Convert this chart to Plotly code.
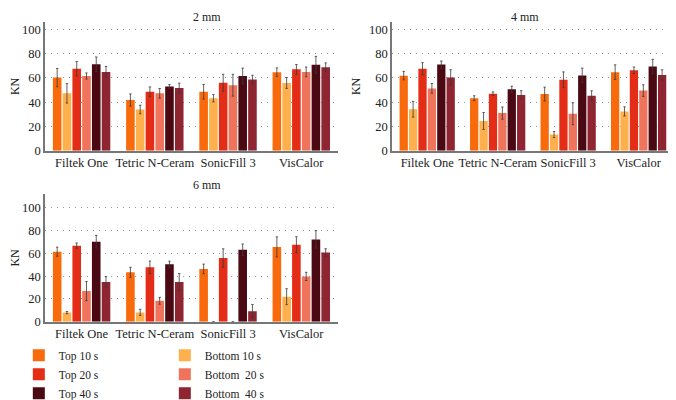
import plotly.graph_objects as go

categories = ["Filtek One", "Tetric N-Ceram", "SonicFill 3", "VisCalor"]
series_names = ["Top 10 s", "Bottom 10 s", "Top 20 s", "Bottom\u00a0 20 s", "Top 40 s", "Bottom\u00a0 40 s"]
colors = ["#F86A0C", "#FDB04B", "#E42D17", "#F0745B", "#4B0A13", "#8F2531"]

# 2 mm
mm2_vals = [
    [60.3, 41.8, 48.6, 64.8],
    [47.3, 34.0, 43.3, 55.9],
    [67.6, 48.6, 56.0, 67.1],
    [61.6, 47.3, 54.0, 65.0],
    [71.3, 53.0, 61.6, 70.8],
    [65.0, 51.7, 58.7, 68.9],
]
mm2_err = [
    [7.5, 5.0, 6.0, 3.5],
    [8.0, 3.5, 3.0, 4.5],
    [6.0, 4.0, 7.0, 4.0],
    [2.5, 4.0, 9.0, 4.0],
    [6.0, 1.5, 6.5, 7.0],
    [4.5, 4.0, 3.5, 3.5],
]
# 4 mm
mm4_vals = [
    [61.9, 43.3, 46.7, 64.8],
    [34.2, 24.5, 13.3, 32.4],
    [67.6, 47.0, 58.5, 66.3],
    [51.4, 31.0, 30.5, 49.6],
    [71.0, 50.7, 62.1, 69.5],
    [60.3, 46.0, 45.4, 62.4],
]
mm4_err = [
    [3.5, 2.0, 5.7, 6.0],
    [6.5, 7.0, 2.5, 3.8],
    [5.0, 1.5, 6.5, 2.7],
    [4.0, 5.0, 9.0, 4.8],
    [3.0, 2.5, 6.0, 5.8],
    [6.5, 3.5, 4.0, 4.3],
]
# 6 mm
mm6_vals = [
    [61.5, 43.4, 46.4, 65.7],
    [8.0, 8.2, 0.0, 22.0],
    [66.8, 47.8, 56.0, 67.6],
    [26.9, 18.4, 0.0, 39.8],
    [70.3, 50.5, 63.2, 72.3],
    [34.9, 34.9, 9.3, 60.7],
]
mm6_err = [
    [4.0, 4.4, 4.2, 8.8],
    [1.0, 2.7, 0.0, 7.0],
    [2.3, 5.5, 8.0, 7.0],
    [8.4, 3.0, 0.0, 3.6],
    [5.5, 2.7, 5.0, 7.7],
    [4.7, 7.4, 5.8, 3.4],
]

panels = [
    ("x", "y", mm2_vals, mm2_err),
    ("x2", "y2", mm4_vals, mm4_err),
    ("x3", "y3", mm6_vals, mm6_err),
]

fig = go.Figure()
for xa, ya, vals, errs in panels:
    for i, name in enumerate(series_names):
        show = xa == "x3"
        err_vis = [e if v > 0 else 0 for v, e in zip(vals[i], errs[i])]
        fig.add_trace(go.Bar(
            x=categories, y=vals[i], name=name, marker_color=colors[i],
            marker_line_width=0,
            error_y=dict(type="data", array=err_vis, color="#3a3a3a", thickness=0.8, width=1.2),
            xaxis=xa, yaxis=ya, showlegend=show, legendgroup=name,
            legend="legend" if i % 2 == 0 else "legend2",
        ))

font_family = "Liberation Serif, Times New Roman, serif"
txt = dict(family=font_family, size=12, color="#222")
axis_x = dict(showline=True, linecolor="#777", linewidth=1.5, ticks="", showgrid=False,
              tickangle=0, tickfont=dict(family=font_family, size=12.5, color="#222"))
axis_y = dict(showline=True, linecolor="#777", linewidth=1.5, ticks="", showgrid=True,
              gridcolor="#999", griddash="1px,5px", gridwidth=1, zeroline=False,
              tickvals=[0, 20, 40, 60, 80, 100], tickfont=dict(family=font_family, size=12.5, color="#222"),
              title=dict(text="KN", font=txt, standoff=6))

legend_common = dict(orientation="v", yanchor="top", xanchor="left",
                     font=dict(family=font_family, size=11.5, color="#222"),
                     tracegroupgap=0, itemwidth=30, bgcolor="rgba(0,0,0,0)")

fig.update_layout(
    width=676, height=400,
    margin=dict(l=0, r=0, t=0, b=0),
    paper_bgcolor="white", plot_bgcolor="white",
    barmode="group", bargap=0.2, bargroupgap=0.12,
    font=dict(family=font_family, color="#222"),
    xaxis=dict(axis_x, domain=[0.0547, 0.488], anchor="y"),
    yaxis=dict(axis_y, domain=[0.6225, 0.9625], range=[0, 106], anchor="x"),
    xaxis2=dict(axis_x, domain=[0.568, 0.985], anchor="y2"),
    yaxis2=dict(axis_y, domain=[0.6225, 0.9625], range=[0, 106], anchor="x2"),
    xaxis3=dict(axis_x, domain=[0.0547, 0.488], anchor="y3"),
    yaxis3=dict(axis_y, domain=[0.17, 0.5075], range=[0, 112], anchor="x3"),
    legend=dict(legend_common, x=0.016, y=1 - 352/400),
    legend2=dict(legend_common, x=0.232, y=1 - 352/400),
    annotations=[
        dict(text="2 mm", x=0.271, y=1.0, xref="paper", yref="paper", showarrow=False,
             yanchor="top", font=txt),
        dict(text="4 mm", x=0.789, y=1.0, xref="paper", yref="paper", showarrow=False,
             yanchor="top", font=txt),
        dict(text="6 mm", x=0.271, y=1 - 178/400, xref="paper", yref="paper", showarrow=False,
             yanchor="top", font=txt),
    ],
)

fig.write_html("out.html")
